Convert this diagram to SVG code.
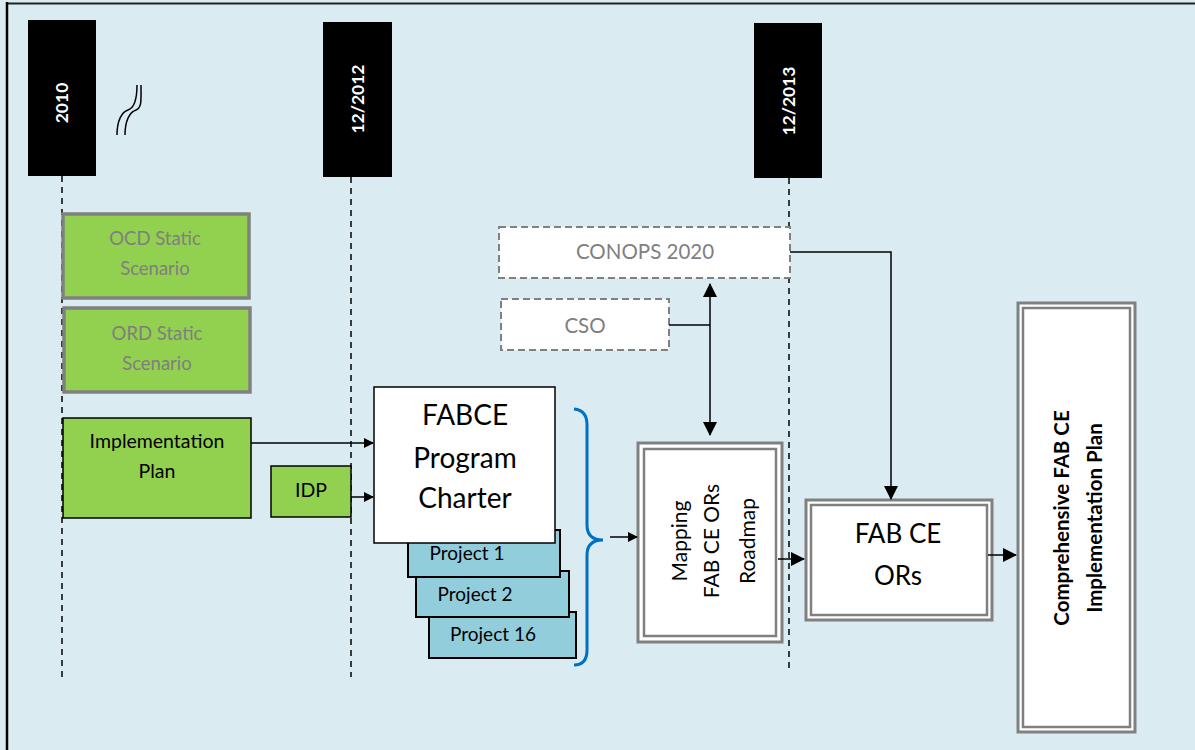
<svg xmlns="http://www.w3.org/2000/svg" width="1195" height="750" viewBox="0 0 1195 750">
<defs>
<marker id="ah" markerWidth="10" markerHeight="10" refX="9" refY="5" orient="auto" markerUnits="userSpaceOnUse">
<path d="M0,0 L10,5 L0,10 Z" fill="#000"/>
</marker>
<marker id="ahs" markerWidth="14" markerHeight="14" refX="13" refY="7" orient="auto-start-reverse" markerUnits="userSpaceOnUse">
<path d="M0,0 L14,7 L0,14 Z" fill="#000"/>
</marker>
<style>
.t{font-family:Lato,"Liberation Sans",sans-serif;text-anchor:middle}
.yr{fill:#000}
.yt{font-family:Lato,"Liberation Sans",sans-serif;font-weight:bold;font-size:17.5px;fill:#fff;text-anchor:middle}
.dl{stroke:#000;stroke-width:1.5;stroke-dasharray:6,5;fill:none}
.grn{fill:#92D050}
.gray{fill:#7f7f7f}
.c{stroke:#000;stroke-width:1.5;fill:none}
.proj{fill:#92CDDC;stroke:#000;stroke-width:2}
.dash{fill:#fff;stroke:#808080;stroke-width:2;stroke-dasharray:7,4}
.dbo{fill:#fff;stroke:#808080;stroke-width:3}
.dbi{fill:none;stroke:#808080;stroke-width:2.5}
</style>
</defs>
<rect x="0" y="0" width="1195" height="750" fill="#DAECF2"/>
<line x1="6" y1="3.5" x2="1195" y2="3.5" stroke="#222" stroke-width="2"/>
<line x1="7" y1="2" x2="7" y2="750" stroke="#000" stroke-width="2.5"/>

<g id="timeline-2010">
<rect class="yr" x="28" y="20" width="68" height="156"/>
<text class="yt" transform="translate(68,103) rotate(-90)">2010</text>
<line class="dl" x1="62" y1="176" x2="62" y2="680"/>
</g>
<g id="break-mark">
<path d="M117,135 C117,120 122,112 128,110 C134,108 137,100 137,85" fill="none" stroke="#000" stroke-width="1.5"/>
<path d="M125,135 C125,120 130,112 136,110 C142,108 141,100 141,85" fill="none" stroke="#000" stroke-width="1.5"/>
</g>
<g id="timeline-2012">
<rect class="yr" x="323" y="22" width="69" height="155"/>
<text class="yt" transform="translate(364,99) rotate(-90)">12/2012</text>
<line class="dl" x1="351" y1="177" x2="351" y2="677"/>
</g>
<g id="timeline-2013">
<rect class="yr" x="754" y="23" width="68" height="155"/>
<text class="yt" transform="translate(795,101) rotate(-90)">12/2013</text>
<line class="dl" x1="789" y1="178" x2="789" y2="670"/>
</g>

<g id="ocd">
<rect class="grn" x="63" y="214" width="186" height="84" stroke="#808080" stroke-width="3.5"/>
<text class="t gray" x="155" y="245" font-size="18.5">OCD Static</text>
<text class="t gray" x="155" y="275" font-size="18.5">Scenario</text>
</g>
<g id="ord">
<rect class="grn" x="64" y="308" width="186" height="84" stroke="#808080" stroke-width="3.5"/>
<text class="t gray" x="157" y="340" font-size="18.5">ORD Static</text>
<text class="t gray" x="157" y="370" font-size="18.5">Scenario</text>
</g>
<g id="impl-plan">
<rect class="grn" x="63" y="418" width="188" height="100" stroke="#000" stroke-width="1.5"/>
<text class="t" x="157" y="448" font-size="19.5">Implementation</text>
<text class="t" x="157" y="478" font-size="19.5">Plan</text>
</g>
<g id="idp">
<rect class="grn" x="271" y="466" width="80" height="51" stroke="#000" stroke-width="1.5"/>
<text class="t" x="311" y="497" font-size="19.5">IDP</text>
</g>

<g id="projects">
<rect class="proj" x="429" y="612" width="147" height="46"/>
<text class="t" x="493" y="641" font-size="19">Project 16</text>
<rect class="proj" x="416" y="571" width="153" height="46"/>
<text class="t" x="475" y="601" font-size="19">Project 2</text>
<rect class="proj" x="408" y="530" width="152" height="47"/>
<text class="t" x="467" y="560" font-size="19">Project 1</text>
</g>
<g id="charter">
<rect x="374" y="387" width="181" height="156" fill="#fff" stroke="#000" stroke-width="1.5"/>
<text class="t" x="465" y="425" font-size="28">FABCE</text>
<text class="t" x="465" y="468" font-size="28">Program</text>
<text class="t" x="465" y="508" font-size="28">Charter</text>
</g>
<g id="brace">
<path d="M574,409 Q587,410 587,425 L587,525 Q587,540 603,540 Q587,540 587,555 L587,650 Q587,665 574,665" fill="none" stroke="#0070C0" stroke-width="3"/>
</g>

<g id="conops">
<rect class="dash" x="499" y="227" width="291" height="51"/>
<text class="t gray" x="645" y="259" font-size="20.5">CONOPS 2020</text>
</g>
<g id="cso">
<rect class="dash" x="501" y="299" width="168" height="51"/>
<text class="t gray" x="585" y="333" font-size="20.5">CSO</text>
</g>

<g id="mapping">
<rect class="dbo" x="638" y="443" width="144" height="199"/>
<rect class="dbi" x="644" y="449" width="132" height="187"/>
<text class="t" transform="translate(687,541) rotate(-90)" font-size="21">Mapping</text>
<text class="t" transform="translate(719,541) rotate(-90)" font-size="21">FAB CE ORs</text>
<text class="t" transform="translate(755,541) rotate(-90)" font-size="21">Roadmap</text>
</g>
<g id="fabce-ors">
<rect class="dbo" x="806" y="500" width="186" height="120"/>
<rect class="dbi" x="811" y="505" width="176" height="110"/>
<text class="t" x="898" y="543" font-size="26">FAB CE</text>
<text class="t" x="898" y="585" font-size="26">ORs</text>
</g>
<g id="comprehensive">
<rect class="dbo" x="1018" y="303" width="117" height="429"/>
<rect class="dbi" x="1023" y="308" width="107" height="419"/>
<text class="t" transform="translate(1069,518) rotate(-90)" font-size="20.5" font-weight="bold">Comprehensive FAB CE</text>
<text class="t" transform="translate(1102,518) rotate(-90)" font-size="20.5" font-weight="bold">Implementation Plan</text>
</g>

<g id="connectors">
<line class="c" x1="251" y1="443" x2="373" y2="443" marker-end="url(#ah)"/>
<line class="c" x1="351" y1="497" x2="373" y2="497" marker-end="url(#ah)"/>
<line class="c" x1="610" y1="537" x2="637" y2="537" marker-end="url(#ah)"/>
<line class="c" x1="710" y1="284" x2="710" y2="435" marker-start="url(#ahs)" marker-end="url(#ahs)"/>
<line class="c" x1="669" y1="325" x2="710" y2="325"/>
<polyline class="c" points="790,252 891,252 891,499" marker-end="url(#ahs)"/>
<line class="c" x1="778" y1="559" x2="804" y2="559" marker-end="url(#ahs)"/>
<line class="c" x1="988" y1="555" x2="1016" y2="555" marker-end="url(#ahs)"/>
</g>
</svg>
